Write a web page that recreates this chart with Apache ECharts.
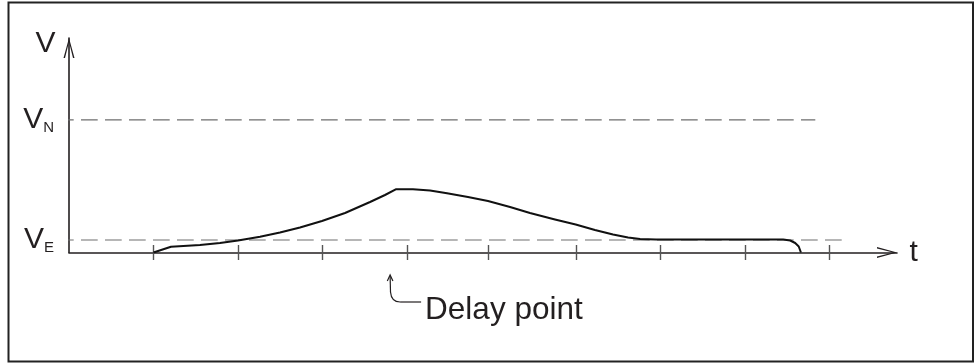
<!DOCTYPE html>
<html><head><meta charset="utf-8">
<script src="https://cdn.jsdelivr.net/npm/echarts@6/dist/echarts.min.js"></script>
<style>html,body{margin:0;padding:0;background:#fff}#c{width:979px;height:363px}</style>
</head><body><div id="c"></div>
<script>
// ---- data (time units / voltage units) ----
const curveX = [1.0, 1.207, 1.550, 1.787, 2.000, 2.261, 2.497, 2.734, 2.994, 3.267, 3.563, 3.740, 3.867, 4.071, 4.273, 4.474, 4.722, 4.959, 5.220, 5.456, 5.752, 5.997, 6.225, 6.439, 6.617, 6.759, 6.948, 8.453, 8.536, 8.595, 8.637, 8.663];
const curveY = [0, 0.27, 0.35, 0.443, 0.559, 0.737, 0.932, 1.166, 1.469, 1.841, 2.354, 2.681, 2.946, 2.946, 2.890, 2.760, 2.587, 2.401, 2.121, 1.841, 1.538, 1.305, 1.049, 0.839, 0.699, 0.629, 0.606, 0.606, 0.559, 0.443, 0.28, 0];
const tickValues = [1, 2, 3, 4, 4.96, 6, 7, 8, 9];
const levelNames = ['N', 'E'];
const levelValues = [6.18, 0.583];
const levelStart = -0.142;
const levelEnds = [8.833, 9.149];
const axisNameY = 'V';
const axisNameX = 't';
const delayLabel = 'Delay point';
const delayPointX = 3.868;

// ---- chart ----
const FONT = '"Liberation Sans", Arial, Helvetica, sans-serif';
const INK = '#231f20';
const arrowPath = 'path://M11,0L22,40L19,40L11,8L3,40L0,40Z';
const chart = echarts.init(document.getElementById('c'), null, {renderer: 'canvas'});

const levelSeries = levelNames.map((n, i) => ({
  type: 'line', clip: false, silent: true, animation: false,
  symbol: 'circle', symbolSize: 0, showSymbol: true,
  itemStyle: {color: '#6e6e6e'},
  lineStyle: {color: '#6e6e6e', width: 1.2, type: [16.7, 7.3]},
  z: 1,
  data: [
    {value: [levelStart, levelValues[i]],
     label: {show: true, position: 'left', distance: 3,
       formatter: '{v|V}{s|' + n + '}',
       rich: {
         v: {fontSize: 30, lineHeight: 30, fontFamily: FONT, color: INK},
         s: {fontSize: 15, lineHeight: 15, fontFamily: FONT, color: INK, verticalAlign: 'bottom', padding: [35, 0, 0, 0]}
       }}},
    [levelEnds[i], levelValues[i]]
  ]
}));

const option = {
  animation: false,
  backgroundColor: '#fff',
  grid: {left: 69, right: 82, top: 38, bottom: 110.5, outerBoundsMode: 'none', containLabel: false},
  xAxis: [
    {type: 'value', min: 0, max: 9.8, position: 'bottom',
     name: axisNameX, nameLocation: 'end', nameGap: 12.5,
     nameTextStyle: {fontSize: 30, fontFamily: FONT, color: INK, align: 'left', verticalAlign: 'middle', padding: [7.6, 0, 0, 0]},
     axisLine: {show: true, onZero: false, lineStyle: {color: INK, width: 1.6},
       symbol: ['none', arrowPath], symbolSize: [11, 20], symbolOffset: [0, -10]},
     axisTick: {show: true, inside: true, length: 7.5, customValues: tickValues, lineStyle: {color: '#555', width: 1.4}},
     axisLabel: {show: false}, splitLine: {show: false}},
    {type: 'value', min: 0, max: 9.8, position: 'bottom', offset: 0,
     axisLine: {show: false, onZero: false},
     axisTick: {show: true, inside: false, length: 7.5, customValues: tickValues, lineStyle: {color: '#555', width: 1.4}},
     axisLabel: {show: false}, splitLine: {show: false}}
  ],
  yAxis: {type: 'value', min: 0, max: 10,
    name: axisNameY, nameLocation: 'end', nameGap: -5.6,
    nameTextStyle: {fontSize: 30, fontFamily: FONT, color: INK, align: 'right', verticalAlign: 'middle', padding: [0, 13.5, 0, 0]},
    axisLine: {show: true, onZero: false, lineStyle: {color: INK, width: 1.6},
      symbol: ['none', arrowPath], symbolSize: [11, 20], symbolOffset: [0, -10]},
    axisTick: {show: false}, axisLabel: {show: false}, splitLine: {show: false}},
  series: [
    {type: 'line', name: 'V', silent: true, symbol: 'none', z: 3,
     lineStyle: {color: '#111', width: 2, join: 'round'},
     data: curveX.map((x, i) => [x, curveY[i]])},
    ...levelSeries
  ],
  graphic: [
    {id: 'border', type: 'rect', silent: true, z: 0,
     shape: {x: 8.5, y: 2.5, width: 964.5, height: 359},
     style: {fill: 'none', stroke: '#222', lineWidth: 2}}
  ]
};
chart.setOption(option);

// Delay point annotation anchored to the peak start on the time axis
const p = chart.convertToPixel({xAxisIndex: 0, yAxisIndex: 0}, [delayPointX, 0]);
const tx = p[0] - 5.7, ty = p[1] + 22.5;
const annStyle = {fill: 'none', stroke: INK, lineWidth: 1.2};
chart.setOption({graphic: [
  {id: 'delayStem1', type: 'line', silent: true,
   shape: {x1: tx, y1: ty + 1, x2: tx + 0.4, y2: ty + 17}, style: annStyle},
  {id: 'delayStem2', type: 'bezierCurve', silent: true,
   shape: {x1: tx + 0.4, y1: ty + 17, cpx1: tx + 1.2, cpy1: ty + 27, x2: tx + 10, y2: ty + 27}, style: annStyle},
  {id: 'delayStem3', type: 'line', silent: true,
   shape: {x1: tx + 10, y1: ty + 27, x2: tx + 31, y2: ty + 27}, style: annStyle},
  {id: 'delayHead', type: 'polyline', silent: true,
   shape: {points: [[tx - 2.8, ty + 6], [tx, ty], [tx + 2.8, ty + 6]]}, style: annStyle},
  {id: 'delayText', type: 'text', silent: true,
   style: {x: tx + 35, y: ty + 35.1, text: delayLabel, fontSize: 31.5, fontFamily: FONT, fill: INK, align: 'left', verticalAlign: 'middle'}}
]});
</script>
</body></html>
